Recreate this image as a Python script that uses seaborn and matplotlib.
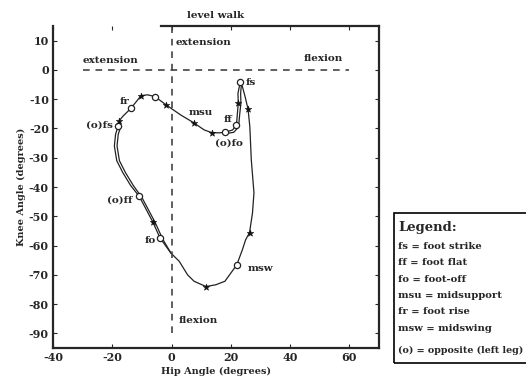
import pandas as pd
import matplotlib.pyplot as plt
import seaborn as sns
from matplotlib.patches import Rectangle

# Hip / knee angle loop (right leg)
hip = [23.2, 22.4, 22.5, 22.2, 21.9, 20.6, 18.1, 16.0, 13.5, 11.0, 7.4, 3.1,
       -1.9, -5.6, -8.1, -10.3, -13.7, -16.5, -17.6, -18.0, -18.9, -19.3,
       -18.5, -16.5, -13.8, -10.9, -6.4, -3.9, -0.2, 2.6, 5.4, 7.6, 11.6,
       14.9, 18.0, 20.0, 22.0, 23.9, 25.0, 26.3, 27.3, 27.8, 26.9, 26.4,
       25.8, 24.8, 23.9, 23.2]
knee = [-4.0, -8.0, -11.4, -15.0, -18.8, -20.5, -21.3, -21.5, -21.4, -20.5,
        -18.0, -15.4, -11.9, -9.1, -8.5, -8.8, -13.1, -15.9, -17.3, -19.1,
        -22.0, -26.0, -31.0, -35.0, -39.5, -43.2, -51.8, -57.4, -62.6, -65.4,
        -70.0, -72.2, -74.0, -73.4, -72.2, -69.4, -66.6, -61.4, -58.0, -55.6,
        -48.9, -42.0, -30.7, -19.3, -13.4, -9.1, -5.7, -4.0]

# second cycle where it does not overlap the first one
hip2a = [23.6, 23.3, 23.4, 23.0, 22.6, 21.0, 18.1]
knee2a = [-4.5, -8.0, -11.4, -15.0, -19.5, -21.3, -21.8]
hip2b = [-17.2, -18.0, -18.4, -17.6, -15.6, -12.9, -10.0, -5.5, -3.0, -0.2]
knee2b = [-19.5, -22.0, -26.0, -31.0, -35.0, -39.5, -43.6, -52.2, -57.8, -62.6]

# gait events
circ_hip = [23.2, 21.9, 18.1, -5.6, -13.7, -18.0, -10.9, -3.9, 22.0]
circ_knee = [-4.0, -18.8, -21.3, -9.1, -13.1, -19.1, -43.2, -57.4, -66.6]
star_hip = [22.5, 13.5, 7.4, -1.9, -10.3, -17.6, -6.4, 11.6, 26.3, 25.8]
star_knee = [-11.4, -21.4, -18.0, -11.9, -8.8, -17.3, -51.8, -74.0, -55.6, -13.4]

event_labels = ["fs", "ff", "(o)fo", "msu", "fr", "(o)fs", "(o)ff", "fo", "msw"]
label_x = [24.9, 20.6, 14.8, 5.7, -17.5, -19.9, -13.1, -5.4, 25.6]
label_y = [-4.4, -17.0, -25.0, -14.7, -10.9, -18.8, -44.4, -58.4, -67.9]
label_ha = ["left", "right", "left", "left", "left", "right", "right", "right", "left"]

legend_lines = ["fs = foot strike", "ff = foot flat", "fo = foot-off",
                "msu = midsupport", "fr = foot rise", "msw = midswing"]

sns.set_style("ticks")
plt.rcParams["font.family"] = ["DejaVu Serif"]
plt.rcParams["font.weight"] = "bold"
plt.rcParams["axes.unicode_minus"] = False

fig = plt.figure(figsize=(5.26, 3.81), dpi=100)
ax = fig.add_axes([0.1008, 0.0866, 0.6198, 0.8451])

df = pd.concat([
    pd.DataFrame({"hip": hip, "knee": knee, "seg": 0}),
    pd.DataFrame({"hip": hip2a, "knee": knee2a, "seg": 1}),
    pd.DataFrame({"hip": hip2b, "knee": knee2b, "seg": 2}),
])
sns.lineplot(data=df, x="hip", y="knee", units="seg", estimator=None,
             sort=False, color="#222222", lw=0.9, ax=ax, legend=False)

sns.scatterplot(x=circ_hip, y=circ_knee, marker="o", s=20, facecolor="white",
                edgecolor="#222222", linewidth=0.9, zorder=3, ax=ax)
sns.scatterplot(x=star_hip, y=star_knee, marker="*", s=24, color="#111111",
                edgecolor="#111111", linewidth=0.4, zorder=3, ax=ax)

# quadrant lines
ax.plot([-30, 60], [0, 0], ls=(0, (4, 3.5)), color="#444444", lw=1.2)
ax.plot([0, 0], [-90, 15], ls=(0, (4, 3.5)), color="#444444", lw=1.2)

for t, x, y, ha in zip(event_labels, label_x, label_y, label_ha):
    ax.text(x, y, t, ha=ha, va="center", fontsize=7.5, fontweight="bold")

ax.text(-30, 3.2, "extension", fontsize=7.5, fontweight="bold", va="center")
ax.text(1.3, 9.5, "extension", fontsize=7.5, fontweight="bold", va="center")
ax.text(44.5, 4.0, "flexion", fontsize=7.5, fontweight="bold", va="center")
ax.text(2.4, -85.7, "flexion", fontsize=7.5, fontweight="bold", va="center")

ax.set_xlim(-40, 70)
ax.set_ylim(-95, 15)
ax.set_xticks([-40, -20, 0, 20, 40, 60])
ax.set_yticks(list(range(-90, 11, 10)))
ax.tick_params(direction="in", top=True, right=True, length=3, width=0.8,
               labelsize=8, pad=3)
for s in ax.spines.values():
    s.set_linewidth(1.6)
ax.spines["top"].set_bounds(-3.5, 70)

ax.set_title("level walk", fontsize=7.5, fontweight="bold", pad=6)
ax.set_xlabel("Hip Angle (degrees)", fontsize=7, fontweight="bold", labelpad=3)
ax.set_ylabel("Knee Angle (degrees)", fontsize=7, fontweight="bold", labelpad=2)

# legend box
fig.patches.append(Rectangle((0.749, 0.047), 0.27, 0.394, transform=fig.transFigure,
                             fill=False, edgecolor="black", lw=1.2))
fig.text(0.757, 0.404, "Legend:", fontsize=9.5, fontweight="bold", va="center")
for i, line in enumerate(legend_lines):
    fig.text(0.757, 0.354 - i * 0.0432, line, fontsize=7.2, fontweight="bold", va="center")
fig.text(0.756, 0.081, "(o) = opposite (left leg)", fontsize=6.8, fontweight="bold",
         va="center")

fig.savefig("out.png", dpi=100)
